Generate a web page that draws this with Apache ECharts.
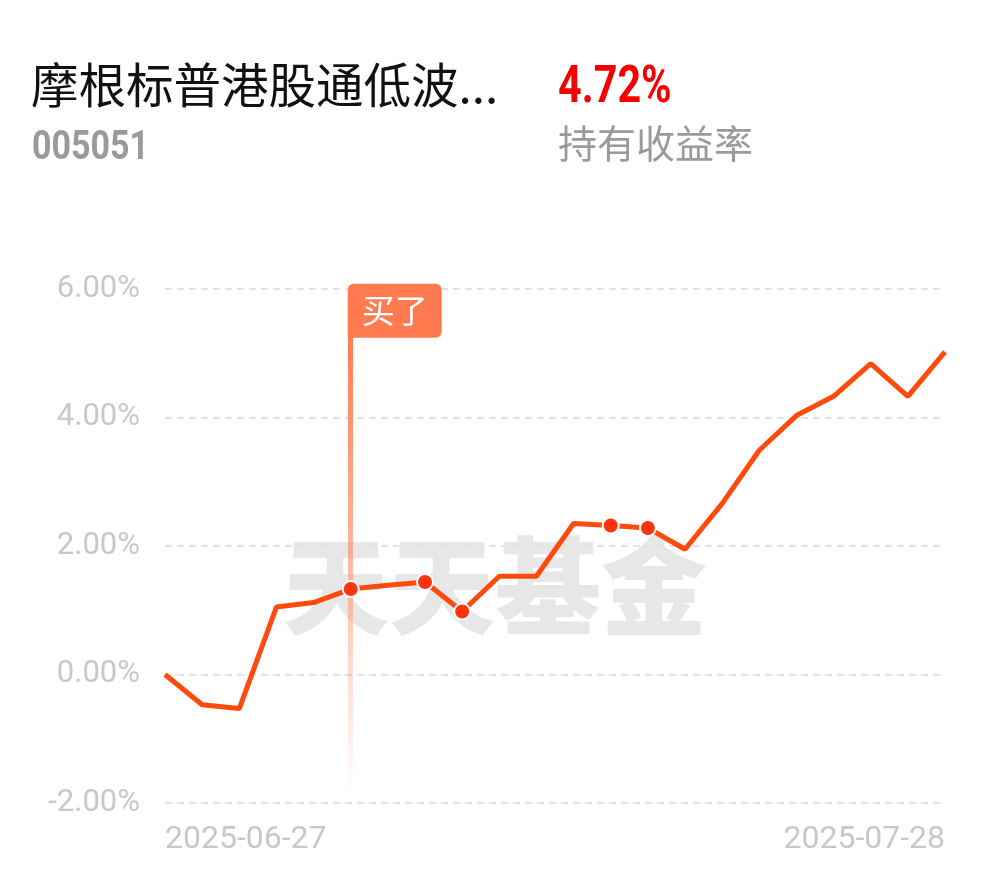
<!DOCTYPE html>
<html>
<head>
<meta charset="utf-8">
<script src="https://cdn.jsdelivr.net/npm/echarts@6/dist/echarts.min.js"></script>
<style>
html,body{margin:0;padding:0;background:#fff;}
#c{width:990px;height:878px;}
</style>
</head>
<body>
<div id="c"></div>
<script>
// ---- data ----
const dates = ['2025-06-27','2025-06-30','2025-07-01','2025-07-02','2025-07-03','2025-07-04','2025-07-07','2025-07-08','2025-07-09','2025-07-10','2025-07-11','2025-07-14','2025-07-15','2025-07-16','2025-07-17','2025-07-18','2025-07-21','2025-07-22','2025-07-23','2025-07-24','2025-07-25','2025-07-28'];
const returns = [0.00,-0.47,-0.53,1.05,1.12,1.33,1.39,1.44,0.98,1.53,1.53,2.35,2.32,2.28,1.95,2.66,3.49,4.03,4.33,4.84,4.33,5.02];
const dotIndexes = [5,7,8,12,13];
const buyIndex = 5;
const buyLabel = '买了';
const yTicks = [-2,0,2,4,6];
const fundName = '摩根标普港股通低波...';
const fundCode = '005051';
const holdReturn = '4.72%';
const holdReturnLabel = '持有收益率';
const watermark = '天天基金';

const chart = echarts.init(document.getElementById('c'), null, {renderer:'canvas'});

const seriesData = returns.map((v,i)=> dotIndexes.includes(i)
  ? {value:v, symbol:'circle', symbolSize:16}
  : {value:v, symbol:'none'});

const option = {
  animation:false,
  backgroundColor:'#fff',
  grid:{left:165,right:45,top:289,bottom:75,containLabel:false},
  graphic:[
    {type:'text',left:31,top:61,z:10,style:{text:fundName,fill:'#111',font:'400 47.5px "Noto Sans CJK SC"'}},
    {type:'text',x:32,y:128,scaleX:0.83,z:10,style:{text:fundCode,fill:'#9a9a9a',font:'bold 41px Roboto'}},
    {type:'text',x:558,y:64,scaleX:0.81,z:10,style:{text:holdReturn,fill:'#f40000',font:'bold 51px Roboto'}},
    {type:'text',left:558,top:124,z:10,style:{text:holdReturnLabel,fill:'#9a9a9a',font:'400 39px "Noto Sans CJK SC"'}},
    {type:'text',left:283,top:533,z:-1,silent:true,style:{text:watermark,fill:'#e7e7e7',font:'900 106px "Noto Sans CJK SC"'}}
  ],
  xAxis:{
    type:'category',
    data:dates,
    boundaryGap:false,
    axisLine:{show:false},
    axisTick:{show:false},
    splitLine:{show:false},
    axisLabel:{
      interval:(i)=> i===0 || i===dates.length-1,
      alignMinLabel:'left',
      alignMaxLabel:'right',
      color:'#c8c8c8',
      fontSize:32,
      fontFamily:'Roboto',
      margin:21
    }
  },
  yAxis:{
    type:'value',
    min:yTicks[0],
    max:yTicks[yTicks.length-1],
    interval:2,
    axisLine:{show:false},
    axisTick:{show:false},
    axisLabel:{
      formatter:(v)=> v.toFixed(2)+'%',
      color:'#c8c8c8',
      fontSize:31,
      fontFamily:'Roboto',
      margin:25
    },
    splitLine:{show:true,lineStyle:{color:'#e2e2e2',width:2,type:[7,5]}}
  },
  series:[{
    type:'line',
    data:seriesData,
    z:5,
    lineStyle:{color:'#ff4a0c',width:5},
    itemStyle:{color:'#ff3310',borderColor:'#fff',borderWidth:2},
    emphasis:{disabled:true},
    markLine:{
      silent:true,
      symbol:['none','none'],
      z:3,
      label:{show:false},
      lineStyle:{
        width:5,
        type:'solid',
        color:new echarts.graphic.LinearGradient(0,0,0,1,[
          {offset:0,color:'rgba(255,122,79,1)'},
          {offset:0.5,color:'rgba(255,140,100,0.6)'},
          {offset:1,color:'rgba(255,160,130,0)'}
        ])
      },
      data:[[{coord:[buyIndex,5.25]},{coord:[buyIndex,-1.88]}]]
    },
    markPoint:{
      silent:true,
      symbol:'rect',
      symbolSize:0,
      z:6,
      data:[{coord:[buyIndex,5.66]}],
      label:{
        show:true,
        formatter:buyLabel,
        position:'right',
        distance:-3,
        color:'#fff',
        fontSize:33,
        fontFamily:'Noto Sans CJK SC',
        lineHeight:32,
        backgroundColor:'#ff7b4f',
        borderRadius:[6,6,6,0],
        padding:[11,14,11,14]
      }
    }
  }]
};
chart.setOption(option);
</script>
</body>
</html>
